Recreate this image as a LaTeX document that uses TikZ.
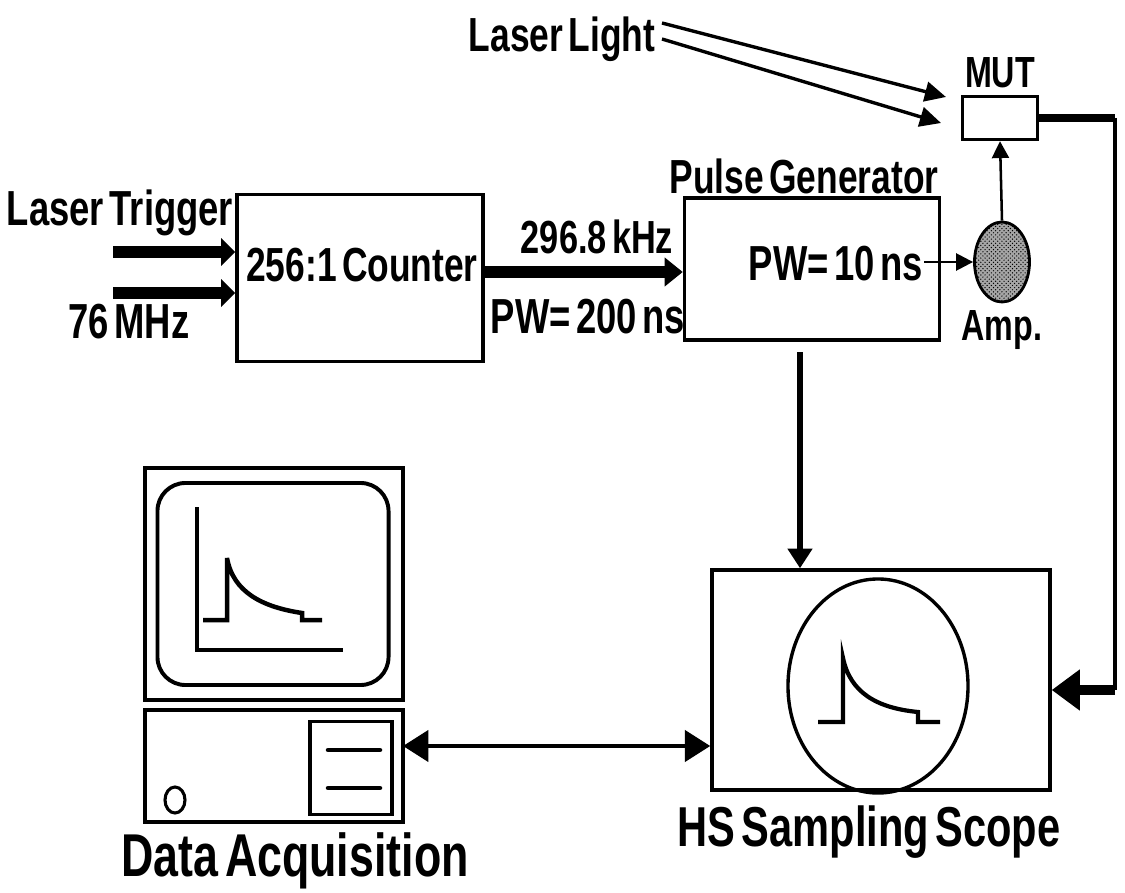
\documentclass[tikz,border=0pt]{standalone}
\usepackage{fontspec}
\setmainfont{Liberation Sans}[FakeStretch=0.74, WordSpace=0.55]
\usetikzlibrary{arrows.meta, shapes.geometric, patterns}

\begin{document}
\begin{tikzpicture}[x=0.025cm, y=-0.025cm, line width=2pt,
    txt/.style={inner sep=0pt, anchor=base, font=\bfseries\fontsize{#1}{#1}\selectfont},
    txt/.default=34,
    box/.style={draw, line width=2.4pt, inner sep=0pt},
    fat/.style={line width=8pt, -{Triangle[length=10pt, width=19pt]}},
    thin/.style={line width=1.8pt, -{Triangle[length=12pt, width=12pt]}},
    beam/.style={line width=2.4pt, -{Triangle[length=15pt, width=14pt]}}]
  \useasboundingbox (0,0) rectangle (1125,893);

  % trigger chain
  \node [box, minimum width=6.15cm, minimum height=4.175cm] (counter) at (360,278) {};
  \node [txt] (countertext) at (362,281) {256:1 Counter};
  \node [box, minimum width=6.375cm, minimum height=3.55cm] (pulse) at (812,269) {};
  \node [txt=35] (pw10) at (836,280) {PW= 10 ns};
  \node [txt] (pulselabel) at (804,194) {Pulse Generator};
  \node [txt=35] (trigger) at (120,225) {Laser Trigger};
  \node [txt=35] (mhz) at (129,338) {76 MHz};
  \node [txt=33] (khz) at (597,253) {296.8 kHz};
  \node [txt=35] (pw200) at (588,333) {PW= 200 ns};
  \coordinate (in1) at (113,252);
  \coordinate (in2) at (113,293);
  \draw [fat] (in1) -- (in1 -| counter.west);
  \draw [fat] (in2) -- (in2 -| counter.west);
  \draw [line width=9pt, -{Triangle[length=13pt, width=20pt]}]
    ([yshift=0.15cm]counter.east) -- ([yshift=0.15cm]counter.east -| pulse.west);

  % device under test
  \node [box, minimum width=1.875cm, minimum height=1.075cm] (mut) at (1000,118) {};
  \node [txt=31] (mutlabel) at (1000,88) {MUT};
  \node [draw, ellipse, line width=2pt, minimum width=1.375cm, minimum height=2cm,
    preaction={fill=gray!70}, pattern=crosshatch dots] (amp) at (1002,262) {};
  \node [txt=31] (amplabel) at (1002,340) {Amp.};
  \draw [thin] (pw10.east |- amp.west) -- (amp.west);
  \draw [thin] (amp.north) -- (mut.south);
  \node [txt] (light) at (562,52) {Laser Light};
  \coordinate (beam1) at (662,23);
  \coordinate (beam2) at (662,39);
  \coordinate (tip1) at (946,97);
  \coordinate (tip2) at (941,123);
  \draw [beam] (beam1) -- (tip1);
  \draw [beam] (beam2) -- (tip2);

  % sampling scope
  \node [box, minimum width=8.45cm, minimum height=5.5cm] (scope) at (881,680) {};
  \node [draw, ellipse, line width=2.4pt, minimum width=4.5cm, minimum height=5.35cm]
    (crt) at (878,686) {};
  \draw [line width=3pt] (818,722) -- (843,722) -- (843,658)
    .. controls (850,692) and (876,708) .. (918,712) -- (918,722) -- (940,722);
  \node [txt=40] (scopelabel) at (869,846) {HS Sampling Scope};
  \coordinate (pgout) at (800,352);
  \draw [line width=4.5pt, -{Triangle[length=14pt, width=17pt]}] (pgout) -- (pgout |- scope.north);
  \coordinate (wire1) at (1115,118);
  \coordinate (wire2) at (1115,690);
  \draw [line width=6pt] (mut.east) -- (wire1);
  \draw [line width=3.2pt] (wire1) -- (wire2);
  \draw [line width=7pt, -{Triangle[length=20pt, width=28pt]}] (wire2) -- (wire2 -| scope.east);

  % data acquisition computer
  \node [box, minimum width=6.45cm, minimum height=5.8cm] (monitor) at (274,584) {};
  \node [draw, line width=2.8pt, rounded corners=0.7cm, minimum width=5.775cm,
    minimum height=5.05cm, inner sep=0pt] (screen) at (273,584) {};
  \draw [line width=3pt] (197,507) -- (197,650) -- (343,650);
  \draw [line width=3.2pt] (203,620) -- (227,620) -- (227,558)
    .. controls (233,592) and (262,607) .. (302,613) -- (302,620) -- (322,620);
  \node [box, minimum width=6.45cm, minimum height=2.8cm] (base) at (274,766) {};
  \node [box, minimum width=2.05cm, minimum height=2.325cm] (drive) at (351,768) {};
  \draw [line width=3.2pt, line cap=round] (328,750) -- (380,750);
  \draw [line width=3.2pt, line cap=round] (328,788) -- (380,788);
  \node [draw, ellipse, line width=2.2pt, minimum width=0.5cm, minimum height=0.65cm,
    inner sep=0pt] (power) at (175,800) {};
  \node [txt=43] (daqlabel) at (295,876) {Data Acquisition};
  \coordinate (daq) at (403,746);
  \draw [line width=3pt, {Triangle[length=18pt, width=22pt]}-{Triangle[length=18pt, width=22pt]}]
    (daq) -- (daq -| scope.west);
\end{tikzpicture}
\end{document}
